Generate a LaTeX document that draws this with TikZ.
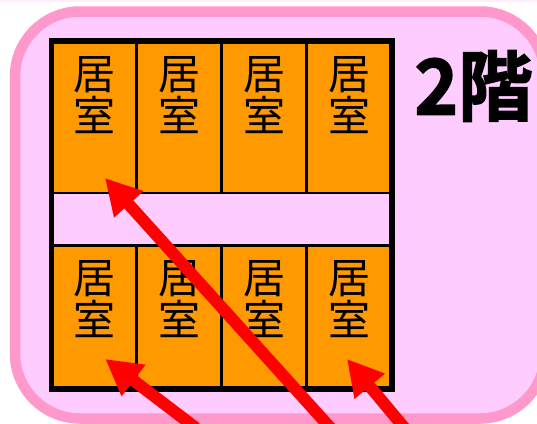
\documentclass[tikz,border=0pt]{standalone}
\usepackage{fontspec}
\usetikzlibrary{arrows.meta}
\newfontfamily\jpfont{Noto Sans CJK JP}
\newfontfamily\jpbold[FakeBold=2]{Noto Sans CJK JP Bold}
\definecolor{roomor}{HTML}{FF9900}
\definecolor{bgpink}{HTML}{FFCCFF}
\definecolor{edgepink}{HTML}{FF99CC}
\definecolor{strip}{HTML}{FFEEFF}
\tikzset{
  x=1pt,y=-1pt,
  roomlabel/.style={inner sep=0pt,align=center,font=\jpfont\fontsize{42}{42}\selectfont},
  redarrow/.style={draw=red,line width=12pt,-{Triangle[length=35.5pt,width=37pt,fill=red]}},
  roomfill/.style={fill=roomor,draw=none},
  thinwall/.style={draw=black,line width=2.7pt},
  thickwall/.style={draw=black,line width=5.6pt,line join=miter},
}
\begin{document}
\begin{tikzpicture}
\clip (0,0) rectangle (537,423);
\fill[white] (0,0) rectangle (537,423);
\fill[strip] (0,0) rectangle (537,2);
\draw[fill=bgpink,draw=edgepink,line width=10.5pt,rounded corners=65pt] (15,11.5) rectangle (545,418.5);
% rooms
\fill[roomfill] (51.5,41) rectangle (392,193);
\fill[roomfill] (51.5,245.7) rectangle (392,389);
% walls
\draw[thinwall] (51.5,193) -- (392,193);
\draw[thinwall] (51.5,245.7) -- (392,245.7);
\draw[thinwall] (136.3,41) -- (136.3,193) (221.7,41) -- (221.7,193) (306.5,41) -- (306.5,193);
\draw[thinwall] (136.3,245.7) -- (136.3,389) (221.7,245.7) -- (221.7,389) (306.5,245.7) -- (306.5,389);
\draw[thickwall] (51.5,41) rectangle (392,389);
% labels
\node[roomlabel] (r1) at (94.5,95.5) {居\\室};
\node[roomlabel] (r2) at (179.5,95.5) {居\\室};
\node[roomlabel] (r3) at (264.5,95.5) {居\\室};
\node[roomlabel] (r4) at (349.7,95.5) {居\\室};
\node[roomlabel] (r5) at (94.5,299) {居\\室};
\node[roomlabel] (r6) at (179.5,299) {居\\室};
\node[roomlabel] (r7) at (264.5,299) {居\\室};
\node[roomlabel] (r8) at (349.7,299) {居\\室};
\node[inner sep=0pt,anchor=center,xscale=1.16,yscale=1.2,transform shape,font=\jpbold\fontsize{64}{64}\selectfont] (title) at (473.5,86) {2階};
% arrows
\coordinate (t1) at (105,178);
\coordinate (s1) at (330.5,428);
\coordinate (t2) at (105.3,359);
\coordinate (s2) at (196,428);
\coordinate (t3) at (347,359);
\coordinate (s3) at (404.5,428);
\draw[redarrow] (s1) -- (t1);
\draw[redarrow] (s2) -- (t2);
\draw[redarrow] (s3) -- (t3);
\end{tikzpicture}
\end{document}
